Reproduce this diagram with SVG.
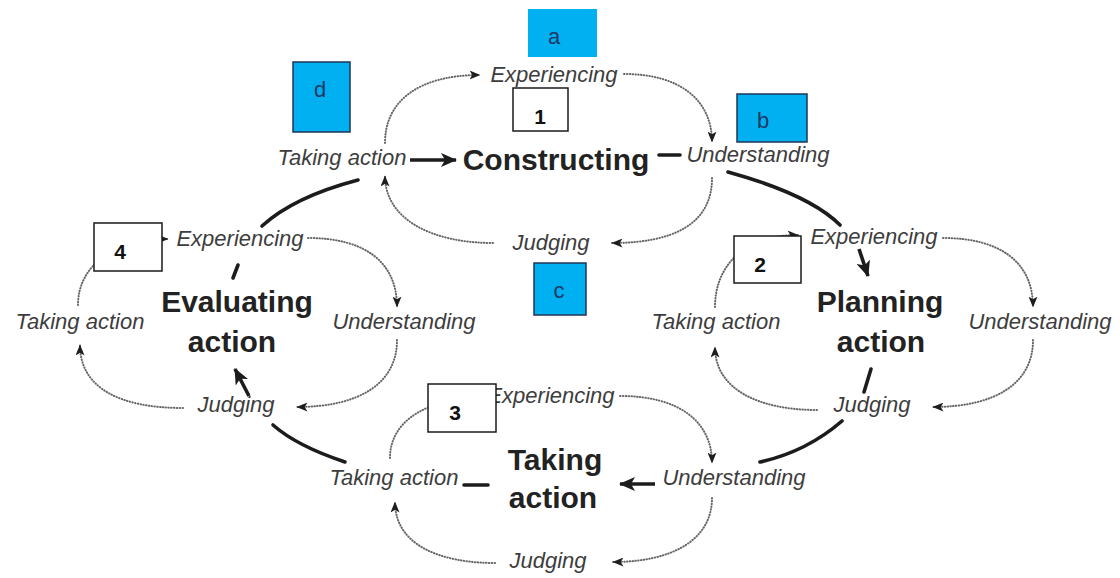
<svg xmlns="http://www.w3.org/2000/svg" width="1120" height="578" viewBox="0 0 1120 578">
  <defs>
    <style>
      .step { font-family: "Liberation Sans", Arial, sans-serif; font-style: italic; font-size: 22px; fill: #3d3d3d; text-anchor: middle; }
      .phase { font-family: "Liberation Sans", Arial, sans-serif; font-weight: bold; font-size: 30px; fill: #222; text-anchor: middle; }
      .dotted { fill: none; stroke: #666; stroke-width: 2; stroke-dasharray: 0.5 2.3; stroke-linecap: round; marker-end: url(#dot-head); }
      .bold { fill: none; stroke: #1c1c1c; stroke-width: 3.6; stroke-linecap: round; }
      .bold-arrow { fill: none; stroke: #1c1c1c; stroke-width: 3.6; marker-end: url(#bold-head); }
      .tag { fill: #00B0F0; stroke: #1f3557; stroke-width: 1.5; }
      .tag-text { font-family: "Liberation Sans", Arial, sans-serif; font-size: 22px; fill: #1f3864; text-anchor: middle; }
      .num { fill: #ffffff; stroke: #1a1a1a; stroke-width: 1.5; }
      .num-text { font-family: "Liberation Sans", Arial, sans-serif; font-weight: bold; font-size: 21px; fill: #111; text-anchor: middle; }
    </style>
    <marker id="dot-head" viewBox="0 0 11 9" refX="10.5" refY="4.5" markerWidth="11" markerHeight="9" markerUnits="userSpaceOnUse" orient="auto">
      <path d="M0,0 L11,4.5 L0,9 L2.8,4.5 z" fill="#1e1e1e"/>
    </marker>
    <marker id="bold-head" viewBox="0 0 16 14" refX="15" refY="7" markerWidth="16" markerHeight="14" markerUnits="userSpaceOnUse" orient="auto">
      <path d="M0,0 L16,7 L0,14 L4,7 z" fill="#1c1c1c"/>
    </marker>
  </defs>

  <rect width="1120" height="578" fill="#ffffff"/>

  <g id="connectors">
    <!-- Constructing cycle -->
    <path class="dotted" d="M385,143 C385,100 420,75 480,75"/>
    <path class="dotted" d="M624,74 C680,74 712,100 712,142"/>
    <path class="dotted" d="M712,178 C712,225 672,243 612,243"/>
    <path class="dotted" d="M493,243 C430,243 385,218 385,176"/>
    <!-- Evaluating action cycle -->
    <path class="dotted" d="M78,305 C78,265 115,239 168,239"/>
    <path class="dotted" d="M308,238 C365,238 397,262 397,307"/>
    <path class="dotted" d="M397,340 C397,385 357,407 297,407"/>
    <path class="dotted" d="M183,408 C120,408 80,388 80,345"/>
    <!-- Planning action cycle -->
    <path class="dotted" d="M715,307 C715,265 745,235 798,235"/>
    <path class="dotted" d="M943,238 C1000,238 1033,262 1033,307"/>
    <path class="dotted" d="M1033,340 C1033,385 993,407 933,407"/>
    <path class="dotted" d="M817,410 C760,410 715,390 715,347"/>
    <!-- Taking action cycle -->
    <path class="dotted" d="M390,458 C390,420 428,397 490,397"/>
    <path class="dotted" d="M620,396 C680,396 712,422 712,463"/>
    <path class="dotted" d="M712,498 C712,540 672,562 613,562"/>
    <path class="dotted" d="M495,563 C440,563 395,545 395,502"/>

    <!-- transitions between phases -->
    <path class="bold-arrow" d="M410,160 L456,160"/>
    <path class="bold" d="M659,155 L680,155"/>
    <path class="bold" d="M728,172 C775,185 818,203 840,225"/>
    <path class="bold-arrow" d="M859,249 L868,276"/>
    <path class="bold" d="M871,369 L864,392"/>
    <path class="bold" d="M842,421 C820,440 792,455 760,462"/>
    <path class="bold-arrow" d="M655,484 L620,484"/>
    <path class="bold" d="M464,485 L488,485"/>
    <path class="bold" d="M345,462 C315,452 290,440 273,425"/>
    <path class="bold-arrow" d="M249,396 L235,369"/>
    <path class="bold" d="M238,265 L233,278"/>
    <path class="bold" d="M358,180 C320,190 285,205 262,226"/>
  </g>

  <!-- Constructing -->
  <g id="constructing"><text class="phase" x="556" y="170">Constructing</text></g>
  <g id="constructing-experiencing"><text class="step" x="554" y="82">Experiencing</text></g>
  <g id="constructing-understanding"><text class="step" x="758" y="162">Understanding</text></g>
  <g id="constructing-judging"><text class="step" x="551" y="250">Judging</text></g>
  <g id="constructing-taking-action"><text class="step" x="342" y="165">Taking action</text></g>

  <!-- Evaluating action -->
  <g id="evaluating-action"><text class="phase" x="237" y="312">Evaluating</text><text class="phase" x="232" y="352">action</text></g>
  <g id="evaluating-experiencing"><text class="step" x="240" y="246">Experiencing</text></g>
  <g id="evaluating-understanding"><text class="step" x="404" y="329">Understanding</text></g>
  <g id="evaluating-judging"><text class="step" x="236" y="412">Judging</text></g>
  <g id="evaluating-taking-action"><text class="step" x="80" y="329">Taking action</text></g>

  <!-- Planning action -->
  <g id="planning-action"><text class="phase" x="880" y="312">Planning</text><text class="phase" x="881" y="352">action</text></g>
  <g id="planning-experiencing"><text class="step" x="874" y="244">Experiencing</text></g>
  <g id="planning-understanding"><text class="step" x="1040" y="329">Understanding</text></g>
  <g id="planning-judging"><text class="step" x="872" y="412">Judging</text></g>
  <g id="planning-taking-action"><text class="step" x="716" y="329">Taking action</text></g>

  <!-- Taking action -->
  <g id="taking-action"><text class="phase" x="555" y="470">Taking</text><text class="phase" x="553" y="508">action</text></g>
  <g id="taking-experiencing"><text class="step" x="551" y="403">Experiencing</text></g>
  <g id="taking-understanding"><text class="step" x="734" y="485">Understanding</text></g>
  <g id="taking-judging"><text class="step" x="548" y="568">Judging</text></g>
  <g id="taking-taking-action"><text class="step" x="394" y="485">Taking action</text></g>

  <!-- lettered tags -->
  <g id="tag-a"><rect x="528" y="9" width="69" height="48" fill="#00B0F0"/><text class="tag-text" x="554" y="44">a</text></g>
  <g id="tag-b"><rect class="tag" x="737" y="94" width="70" height="48"/><text class="tag-text" x="763" y="128">b</text></g>
  <g id="tag-c"><rect class="tag" x="534" y="263" width="52" height="52"/><text class="tag-text" x="559" y="298">c</text></g>
  <g id="tag-d"><rect class="tag" x="293" y="62" width="57" height="70"/><text class="tag-text" x="320" y="97">d</text></g>

  <!-- numbered boxes -->
  <g id="box-1"><rect class="num" x="513" y="88" width="55" height="43"/><text class="num-text" x="540" y="124">1</text></g>
  <g id="box-2"><rect class="num" x="734" y="236" width="67" height="47"/><text class="num-text" x="760" y="272">2</text></g>
  <g id="box-3"><rect class="num" x="428" y="384" width="68" height="48"/><text class="num-text" x="455" y="420">3</text></g>
  <g id="box-4"><rect class="num" x="94" y="223" width="68" height="48"/><text class="num-text" x="120" y="259">4</text></g>
</svg>
